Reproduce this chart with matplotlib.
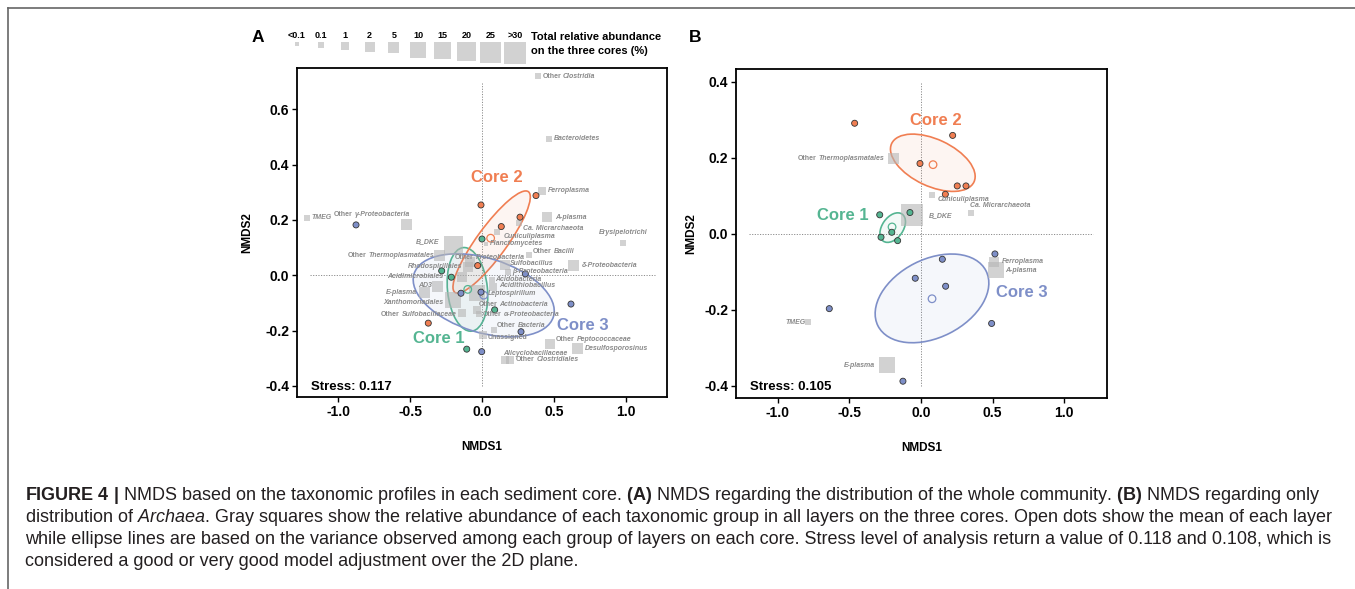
import numpy as np
import matplotlib
matplotlib.use('Agg')
import matplotlib.pyplot as plt
from matplotlib.patches import Ellipse
from matplotlib.transforms import Affine2D
from matplotlib.lines import Line2D

plt.rcParams['font.family'] = ['Liberation Sans', 'DejaVu Sans']
plt.rcParams['axes.unicode_minus'] = False
plt.rcParams['mathtext.fontset'] = 'custom'
plt.rcParams['mathtext.rm'] = 'Liberation Sans'
plt.rcParams['mathtext.it'] = 'Liberation Sans:italic'
plt.rcParams['mathtext.bf'] = 'Liberation Sans:bold'

# =============================================================================
# Data
# =============================================================================

size_classes = ['<0.1', '0.1', '1', '2', '5', '10', '15', '20', '25', '>30']
cores = ['Core 1', 'Core 2', 'Core 3']

# panel A: gray squares (taxa)
taxa_a = ['Other Clostridia', 'Bacteroidetes', 'Ferroplasma', 'A-plasma', 'Ca. Micrarchaeota',
          'Cuniculiplasma', 'Planctomycetes', 'B_DKE', 'Other Thermoplasmatales', 'Other Bacilli',
          'Sulfobacillus', 'β-Proteobacteria', 'δ-Proteobacteria', 'Erysipelotrichi', 'TMEG',
          'Other γ-Proteobacteria', 'Other Proteobacteria', 'Rhodospirillales', 'Acidimicrobiales', 'AD3',
          'E-plasma', 'Xanthomonadales', 'Other Sulfobacillaceae', 'Acidobacteria', 'Acidithiobacillus',
          'Leptospirillum', 'Other Actinobacteria', 'Other α-Proteobacteria', 'Other Bacteria', 'Unassigned',
          'Other Peptococcaceae', 'Desulfosporosinus', 'Alicyclobacillaceae', 'Other Clostridiales']
xa = [0.389, 0.465, 0.417, 0.451, 0.257,
      0.104, 0.024, -0.201, -0.294, 0.324,
      0.158, 0.178, 0.632, 0.979, -1.215,
      -0.525, -0.085, -0.099, -0.141, -0.308,
      -0.398, -0.203, -0.143, 0.065, 0.074,
      -0.039, -0.039, -0.023, 0.081, 0.003,
      0.470, 0.660, 0.158, 0.192]
ya = [0.720, 0.494, 0.305, 0.210, 0.188,
      0.156, 0.113, 0.106, 0.073, 0.073,
      0.037, 0.012, 0.037, 0.118, 0.208,
      0.185, 0.048, 0.030, -0.006, -0.041,
      -0.061, -0.089, -0.137, -0.017, -0.042,
      -0.065, -0.125, -0.140, -0.198, -0.216,
      -0.248, -0.264, -0.306, -0.306]
abund_a = ['0.1', '0.1', '1', '2', '0.1',
           '0.1', '<0.1', '20', '5', '0.1',
           '2', '0.1', '5', '0.1', '0.1',
           '5', '2', '2', '2', '5',
           '5', '10', '1', '0.1', '1',
           '10', '1', '0.1', '0.1', '1',
           '2', '5', '1', '1']

# panel A: layers of each core
dots_a_x = [-0.002, -0.282, -0.215, 0.086, -0.108,
            0.373, -0.009, 0.262, 0.132, -0.032, -0.375,
            -0.877, 0.299, -0.148, -0.009, 0.616, 0.269, -0.004]
dots_a_y = [0.131, 0.016, -0.007, -0.125, -0.267,
            0.288, 0.254, 0.210, 0.176, 0.035, -0.173,
            0.182, 0.005, -0.065, -0.061, -0.104, -0.204, -0.276]
dots_a_core = ['Core 1'] * 5 + ['Core 2'] * 6 + ['Core 3'] * 7
mean_a_x = [-0.101, 0.058, 0.010]
mean_a_y = [-0.051, 0.134, -0.072]
# ellipses: centre and two conjugate semi-axes (data units)
ell_a_c = [(-0.103, -0.051), (0.065, 0.120), (0.010, -0.0725)]
ell_a_u = [(-0.029, 0.151), (0.255, 0.182), (0.484, -0.0773)]
ell_a_v = [(0.138, 0.0072), (0.0845, -0.0318), (-0.0758, -0.1286)]

# panel B: gray squares (archaea)
taxa_b = ['Other Thermoplasmatales', 'Cuniculiplasma', 'Ca. Micrarchaeota', 'B_DKE',
          'Ferroplasma', 'A-plasma', 'TMEG', 'E-plasma']
xb = [-0.193, 0.075, 0.349, -0.061, 0.512, 0.521, -0.786, -0.239]
yb = [0.198, 0.102, 0.054, 0.049, -0.074, -0.096, -0.233, -0.346]
abund_b = ['5', '0.1', '0.1', '>30', '2', '10', '0.1', '10']

dots_b_x = [-0.288, -0.077, -0.204, -0.279, -0.163,
            -0.463, 0.221, -0.007, 0.253, 0.314, 0.170,
            0.516, 0.149, -0.040, 0.172, -0.640, 0.493, -0.126]
dots_b_y = [0.050, 0.056, 0.004, -0.009, -0.018,
            0.291, 0.259, 0.185, 0.126, 0.126, 0.104,
            -0.053, -0.067, -0.117, -0.138, -0.197, -0.236, -0.388]
dots_b_core = ['Core 1'] * 5 + ['Core 2'] * 6 + ['Core 3'] * 7
mean_b_x = [-0.202, 0.084, 0.077]
mean_b_y = [0.018, 0.182, -0.171]
ell_b_c = [(-0.1975, 0.0163), (0.0825, 0.187), (0.0768, -0.170)]
ell_b_u = [(0.0661, 0.0355), (0.2873, -0.0505), (0.377, 0.0724)]
ell_b_v = [(0.060, -0.0159), (-0.0694, -0.056), (0.1235, -0.0916)]

stress = ['0.117', '0.105']

caption = [
    r"$\mathbf{FIGURE\ 4\ |}$ NMDS based on the taxonomic profiles in each sediment core. $\mathbf{(A)}$ NMDS regarding the distribution of the whole community. $\mathbf{(B)}$ NMDS regarding only",
    r"distribution of $\mathit{Archaea}$. Gray squares show the relative abundance of each taxonomic group in all layers on the three cores. Open dots show the mean of each layer",
    "while ellipse lines are based on the variance observed among each group of layers on each core. Stress level of analysis return a value of 0.118 and 0.108, which is",
    "considered a good or very good model adjustment over the 2D plane.",
]

# =============================================================================
# Style / layout
# =============================================================================

W, H = 1355, 589
core_col = {'Core 1': '#55B592', 'Core 2': '#F07E52', 'Core 3': '#7E8FC8'}
sq_side_px = [4, 6, 8, 10, 11, 16, 17, 19, 21, 22]
PT = 0.72  # points per pixel at dpi 100
LBL = '#8a8a8a'

# label offsets in px (dx, dy down) and alignment
lab_a = {
    'Other Clostridia': (4, 0, 'left'), 'Bacteroidetes': (5, 0, 'left'),
    'Ferroplasma': (6, 0, 'left'), 'A-plasma': (8, 0, 'left'),
    'Ca. Micrarchaeota': (4, 5, 'left'), 'Cuniculiplasma': (6, 4, 'left'),
    'Planctomycetes': (4, 0, 'left'), 'B_DKE': (-14, -4, 'right'),
    'Other Thermoplasmatales': (-6, 0, 'right'), 'Other Bacilli': (4, -4, 'left'),
    'Sulfobacillus': (5, -2, 'left'), 'β-Proteobacteria': (4, 0, 'left'),
    'δ-Proteobacteria': (9, 0, 'left'), 'Erysipelotrichi': (0, -10, 'center'),
    'TMEG': (4, 0, 'left'), 'Other γ-Proteobacteria': (3, -10, 'right'),
    'Other Proteobacteria': (-15, -4, 'left'), 'Rhodospirillales': (-6, 0, 'right'),
    'Acidimicrobiales': (-19, 0, 'right'), 'AD3': (-6, -1, 'right'),
    'E-plasma': (-8, 0, 'right'), 'Xanthomonadales': (-10, 3, 'right'),
    'Other Sulfobacillaceae': (-5, 1, 'right'), 'Acidobacteria': (4, 0, 'left'),
    'Acidithiobacillus': (6, -1, 'left'), 'Leptospirillum': (11, 0, 'left'),
    'Other Actinobacteria': (2, -5, 'left'), 'Other α-Proteobacteria': (4, 0, 'left'),
    'Other Bacteria': (3, -5, 'left'), 'Unassigned': (5, 2, 'left'),
    'Other Peptococcaceae': (6, -4, 'left'), 'Desulfosporosinus': (8, 0, 'left'),
    'Alicyclobacillaceae': (-2, -6, 'left'), 'Other Clostridiales': (6, 0, 'left'),
}
lab_b = {
    'Other Thermoplasmatales': (-9, 0, 'right'), 'Cuniculiplasma': (6, 4, 'left'),
    'Ca. Micrarchaeota': (-1, -8, 'left'), 'B_DKE': (17, 0, 'left'),
    'Ferroplasma': (8, 0, 'left'), 'A-plasma': (9, 0, 'left'),
    'TMEG': (-3, 0, 'right'), 'E-plasma': (-12, 0, 'right'),
}
core_lab_a = {'Core 1': (-0.30, -0.228), 'Core 2': (0.099, 0.352), 'Core 3': (0.70, -0.18)}
core_lab_b = {'Core 1': (-0.548, 0.047), 'Core 2': (0.103, 0.297), 'Core 3': (0.703, -0.155)}


def sq_area(cat):
    return (sq_side_px[size_classes.index(cat)] * PT) ** 2


def put_label(ax, x, y, name, dx, dy, ha):
    kw = dict(fontsize=5.0, color=LBL, fontweight='bold', va='center', zorder=6)
    off = (dx * PT, -dy * PT)
    if name.startswith('Other '):
        rest = name[6:]
        if ha == 'right':
            t2 = ax.annotate(rest, (x, y), xytext=off, textcoords='offset points',
                             ha='right', style='italic', **kw)
            ax.annotate('Other', xy=(0, 0.5), xycoords=t2, xytext=(-1.5, 0),
                        textcoords='offset points', ha='right', **kw)
        else:
            t1 = ax.annotate('Other', (x, y), xytext=off, textcoords='offset points', ha='left', **kw)
            ax.annotate(rest, xy=(1, 0.5), xycoords=t1, xytext=(1.5, 0),
                        textcoords='offset points', ha='left', style='italic', **kw)
    elif name == 'Unassigned':
        ax.annotate(name, (x, y), xytext=off, textcoords='offset points', ha=ha, **kw)
    else:
        ax.annotate(name, (x, y), xytext=off, textcoords='offset points',
                    ha=ha, style='italic', **kw)


def draw_panel(ax, taxa, tx, ty, abund, labs, dx_, dy_, dcore, mx, my,
               ec, eu, ev, core_labs, st, xlim, ylim, yticks, vline, ylabx):
    ax.set_xlim(xlim)
    ax.set_ylim(ylim)
    ax.vlines(0, vline[0], vline[1], colors='#8c8c8c', lw=0.7, linestyles=(0, (1.2, 1.5)), zorder=1)
    ax.hlines(0, -1.2, 1.2, colors='#8c8c8c', lw=0.7, linestyles=(0, (1.2, 1.5)), zorder=1)
    for i, c in enumerate(cores):
        m = np.array([[eu[i][0], ev[i][0], ec[i][0]],
                      [eu[i][1], ev[i][1], ec[i][1]],
                      [0, 0, 1]])
        tr = Affine2D(m) + ax.transData
        ax.add_patch(Ellipse((0, 0), 2, 2, transform=tr, facecolor=core_col[c],
                             alpha=0.07, edgecolor='none', zorder=2))
        ax.add_patch(Ellipse((0, 0), 2, 2, transform=tr, facecolor='none',
                             edgecolor=core_col[c], lw=1.2, zorder=2))
    ax.scatter(tx, ty, s=[sq_area(a) for a in abund], marker='s', color='#b5b5b5',
               alpha=0.6, linewidths=0, zorder=3)
    ax.scatter(mx, my, s=30, facecolor='none', edgecolors=[core_col[c] for c in cores],
               linewidths=0.9, zorder=4)
    ax.scatter(dx_, dy_, s=19, c=[core_col[c] for c in dcore], edgecolors='#333333',
               linewidths=0.6, zorder=5)
    for name, x, y in zip(taxa, tx, ty):
        ddx, ddy, ha = labs[name]
        put_label(ax, x, y, name, ddx, ddy, ha)
    for c in cores:
        ax.text(*core_labs[c], c, color=core_col[c], fontsize=12, fontweight='bold',
                ha='center', va='center', zorder=7)
    ax.text(-1.19, -0.403, 'Stress: ' + st, fontsize=9.5, fontweight='bold', va='center')
    ax.set_xticks([-1.0, -0.5, 0.0, 0.5, 1.0])
    ax.set_yticks(yticks)
    ax.xaxis.set_major_formatter(matplotlib.ticker.FormatStrFormatter('%.1f'))
    ax.yaxis.set_major_formatter(matplotlib.ticker.FormatStrFormatter('%.1f'))
    ax.tick_params(direction='out', length=3.5, width=1, labelsize=10, pad=2)
    for lbl in ax.get_xticklabels() + ax.get_yticklabels():
        lbl.set_fontweight('bold')
    for sp in ax.spines.values():
        sp.set_linewidth(1.3)
    ax.set_xlabel('NMDS1', fontsize=8.5, fontweight='bold', va='center')
    ax.set_ylabel('NMDS2', fontsize=8.5, fontweight='bold', va='center')
    ax.xaxis.set_label_coords(0.5, -0.15)
    ax.yaxis.set_label_coords(ylabx, 0.5)


fig = plt.figure(figsize=(W / 100, H / 100), dpi=100)

ax_a = fig.add_axes([296.7 / W, 1 - 397.3 / H, 370.3 / W, 329.3 / H])
draw_panel(ax_a, taxa_a, xa, ya, abund_a, lab_a, dots_a_x, dots_a_y, dots_a_core,
           mean_a_x, mean_a_y, ell_a_c, ell_a_u, ell_a_v, core_lab_a, stress[0],
           (-1.289, 1.283), (-0.441, 0.749), [-0.4, -0.2, 0.0, 0.2, 0.4, 0.6],
           (-0.40, 0.70), -0.134)

ax_b = fig.add_axes([736 / W, 1 - 398.3 / H, 370.7 / W, 329 / H])
draw_panel(ax_b, taxa_b, xb, yb, abund_b, lab_b, dots_b_x, dots_b_y, dots_b_core,
           mean_b_x, mean_b_y, ell_b_c, ell_b_u, ell_b_v, core_lab_b, stress[1],
           (-1.291, 1.296), (-0.433, 0.433), [-0.4, -0.2, 0.0, 0.2, 0.4],
           (-0.40, 0.40), -0.121)

# overlay in pixel coordinates: size legend, panel letters, caption, frame
ov = fig.add_axes([0, 0, 1, 1], zorder=-1)
ov.set_xlim(0, W)
ov.set_ylim(H, 0)
ov.axis('off')

leg_x = 297 + 24.2 * np.arange(len(size_classes))
leg_side = np.array(sq_side_px)
ov.scatter(leg_x, 42 + leg_side / 2, s=[sq_area(c) for c in size_classes], marker='s',
           color='#b5b5b5', alpha=0.6, linewidths=0)
for x, c in zip(leg_x, size_classes):
    ov.text(x, 35, c, fontsize=6.5, fontweight='bold', ha='center', va='center')
ov.text(531, 44, 'Total relative abundance\non the three cores (%)', fontsize=8,
        fontweight='bold', ha='left', va='center', linespacing=1.45)
ov.text(258, 38, 'A', fontsize=12.5, fontweight='bold', ha='center', va='center')
ov.text(695, 38, 'B', fontsize=12.5, fontweight='bold', ha='center', va='center')

for i, line in enumerate(caption):
    ov.text(25, 496 + 22 * i, line, fontsize=13, color='#231f20', ha='left', va='center')

ov.add_line(Line2D([8, W], [8, 8], color='#666666', lw=1.2))
ov.add_line(Line2D([8, 8], [8, H], color='#666666', lw=1.2))

fig.savefig('out.png', dpi=100)
